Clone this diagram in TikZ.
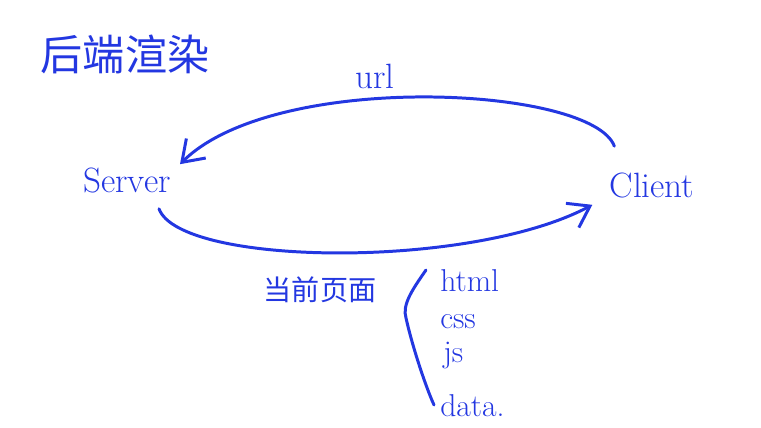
\documentclass[tikz,border=0pt]{standalone}
\usepackage{fontspec}
\newfontfamily\cjk{Noto Sans CJK SC}
\usetikzlibrary{arrows.meta}
\definecolor{penblue}{RGB}{35,55,225}

\begin{document}
\begin{tikzpicture}[x=0.02cm,y=-0.02cm,draw=penblue,text=penblue,line width=1.7pt,line cap=round]
    \tikzstyle{word}=[inner sep=1pt,font=\fontsize{20}{22}\selectfont]
    \tikzstyle{item}=[inner sep=1pt,anchor=base west,font=\fontsize{18}{20}\selectfont]
    \tikzstyle{hanzi}=[inner sep=1pt,font=\cjk\fontsize{16}{18}\selectfont]
    \tikzstyle{flow}=[-{Straight Barb[length=4mm,width=5.5mm]}]

    \useasboundingbox (0,0) rectangle (761,427);

    % Draw the title
    \node[hanzi,font=\cjk\fontsize{24}{26}\selectfont] (title) at (125,54) {后端渲染};

    % Draw the two ends
    \node[word] (server) at (127,180) {Server};
    \node[word] (client) at (652,185) {Client};
    \node[word] (url) at (375,76) {url};

    % Request from the client, page back from the server
    \draw[flow] ([shift={(8,-23)}]client.north west)
        .. controls (592,86) and (275,70) .. ([shift={(6,0)}]server.north east);
    \draw[flow] ([shift={(-15,13)}]server.south east)
        .. controls (180,266) and (470,270) .. ([shift={(-14,4)}]client.south west);

    % Annotate what the page holds
    \node[hanzi] (page) at (320,290) {当前页面};
    \node[item] (html) at (437,291) {html};
    \node[item] (css) at (437,328) {css};
    \node[item] (js) at (440,362) {js};
    \node[item] (data) at (437,416) {data.};
    \draw (426,270) .. controls (412,290) and (402,305) .. (406,318)
        .. controls (412,345) and (425,385) .. (434,405);

\end{tikzpicture}
\end{document}
